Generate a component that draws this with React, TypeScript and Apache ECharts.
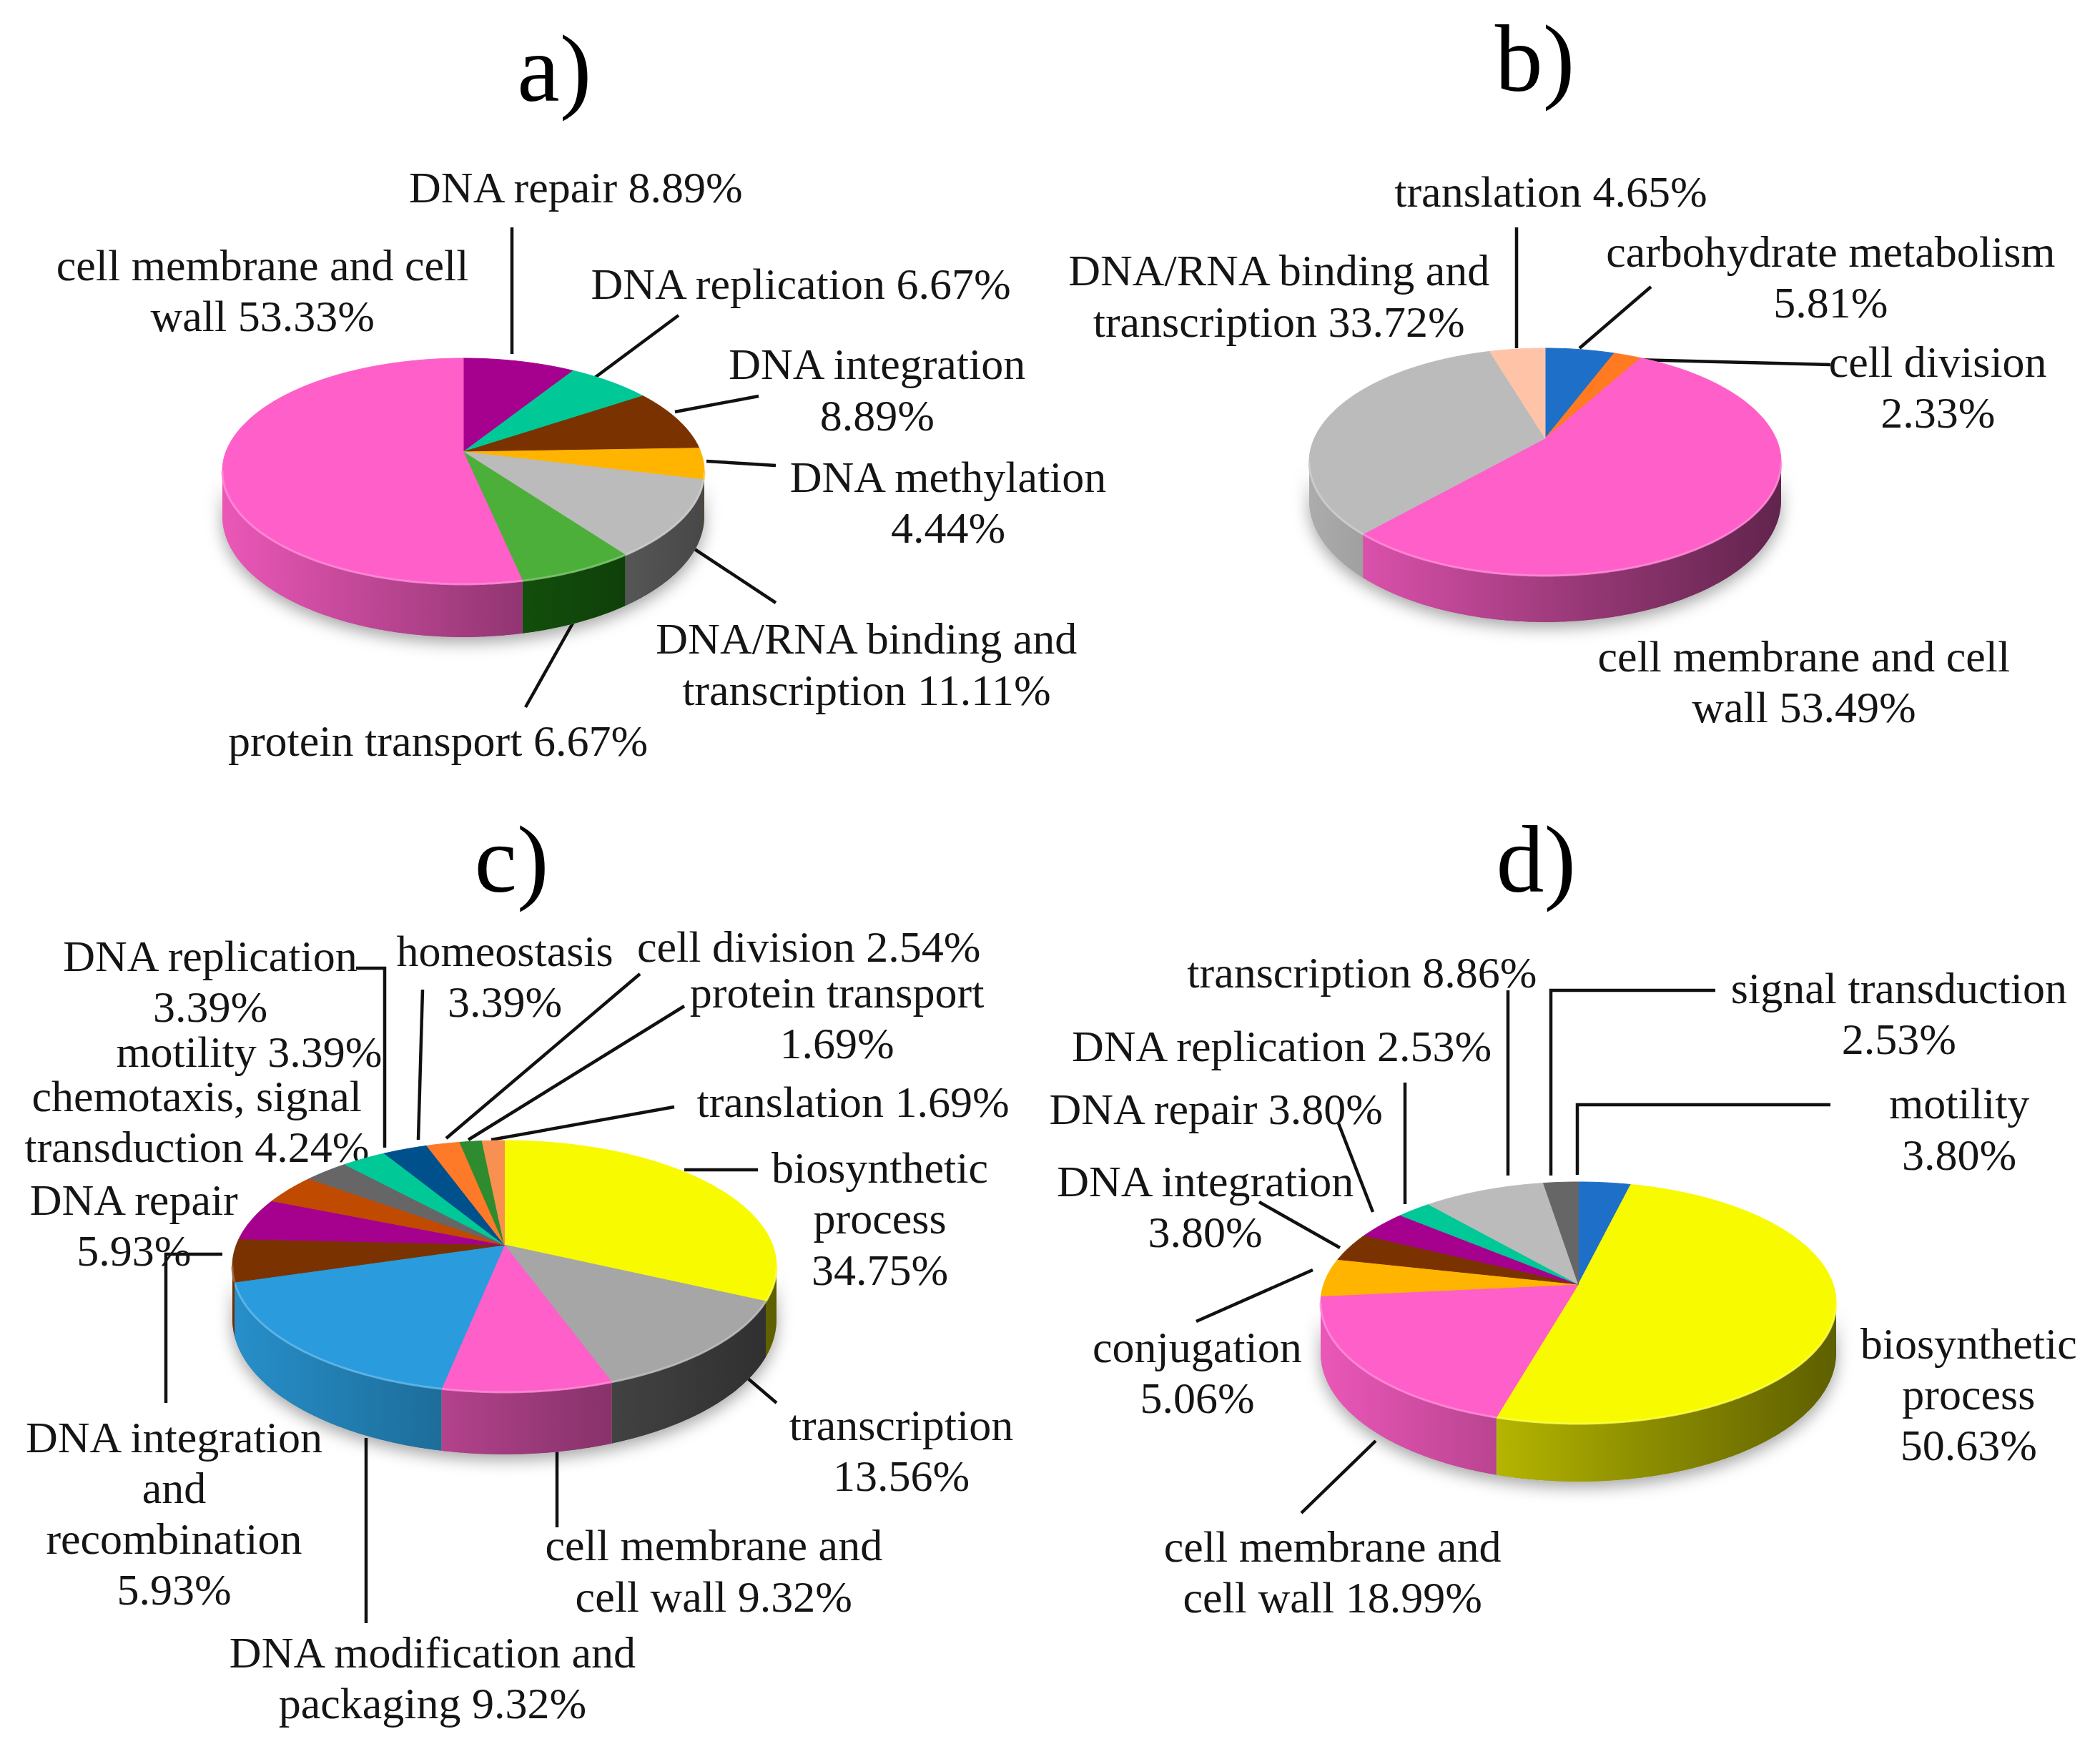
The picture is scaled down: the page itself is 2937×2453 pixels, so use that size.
import React, { useEffect, useRef } from "react";
import * as echarts from "echarts";

// ---------- data ----------
const panelANames = ["DNA repair", "DNA replication", "DNA integration", "DNA methylation", "DNA/RNA binding and transcription", "protein transport", "cell membrane and cell wall"];
const panelAValues = [8.89, 6.67, 8.89, 4.44, 11.11, 6.67, 53.33];
const panelBNames = ["carbohydrate metabolism", "cell division", "cell membrane and cell wall", "DNA/RNA binding and transcription", "translation"];
const panelBValues = [5.81, 2.33, 53.49, 33.72, 4.65];
const panelCNames = ["biosynthetic process", "transcription", "cell membrane and cell wall", "DNA modification and packaging", "DNA integration and recombination", "DNA repair", "chemotaxis, signal transduction", "motility", "DNA replication", "homeostasis", "cell division", "protein transport", "translation"];
// the blue wedge is drawn about twice as large as its printed 9.32 %
const panelCValues = [34.75, 13.56, 9.32, 18.64, 5.93, 5.93, 4.24, 3.39, 3.39, 3.39, 2.54, 1.69, 1.69];
const panelDNames = ["motility", "biosynthetic process", "cell membrane and cell wall", "conjugation", "DNA integration", "DNA repair", "DNA replication", "transcription", "signal transduction"];
const panelDValues = [3.8, 50.63, 18.99, 5.06, 3.8, 3.8, 2.53, 8.86, 2.53];

const panelATitle = "a)";
const panelBTitle = "b)";
const panelCTitle = "c)";
const panelDTitle = "d)";

const panelALabels = [
  ["DNA repair 8.89%"],
  ["cell membrane and cell", "wall 53.33%"],
  ["DNA replication 6.67%"],
  ["DNA integration", "8.89%"],
  ["DNA methylation", "4.44%"],
  ["DNA/RNA binding and", "transcription 11.11%"],
  ["protein transport 6.67%"],
];
const panelBLabels = [
  ["translation 4.65%"],
  ["DNA/RNA binding and", "transcription 33.72%"],
  ["carbohydrate metabolism", "5.81%"],
  ["cell division", "2.33%"],
  ["cell membrane and cell", "wall 53.49%"],
];
const panelCLabels = [
  ["DNA replication", "3.39%"],
  ["homeostasis", "3.39%"],
  ["cell division 2.54%"],
  ["protein transport", "1.69%"],
  ["motility 3.39%"],
  ["chemotaxis, signal", "transduction 4.24%"],
  ["translation 1.69%"],
  ["biosynthetic", "process", "34.75%"],
  ["DNA repair", "5.93%"],
  ["transcription", "13.56%"],
  ["DNA integration", "and", "recombination", "5.93%"],
  ["cell membrane and", "cell wall 9.32%"],
  ["DNA modification and", "packaging 9.32%"],
];
const panelDLabels = [
  ["transcription 8.86%"],
  ["signal transduction", "2.53%"],
  ["DNA replication 2.53%"],
  ["DNA repair 3.80%"],
  ["motility", "3.80%"],
  ["DNA integration", "3.80%"],
  ["conjugation", "5.06%"],
  ["biosynthetic", "process", "50.63%"],
  ["cell membrane and", "cell wall 18.99%"],
];

// ---------- colours ----------
const panelAColors = ["#A6008E", "#00C896", "#7A3200", "#FFB400", "#BBBBBB", "#4CAF3A", "#FF5FC8"];
const panelBColors = ["#1E6FC8", "#FF7A20", "#FF5FC8", "#BBBBBB", "#FFC4A8"];
const panelCColors = ["#F8FA00", "#A6A6A6", "#FF5FC8", "#2A9BDC", "#7A3200", "#A6008E", "#C04A00", "#666666", "#00C896", "#00508C", "#FF7A28", "#2E8B2E", "#F79050"];
const panelDColors = ["#1E6FC8", "#F8FA00", "#FF5FC8", "#FFB400", "#7A3200", "#A6008E", "#00C896", "#BBBBBB", "#666666"];
const panelAWalls = ["#A6008E", "#00C896", "#7A3200", "#FFB400", "#BBBBBB", "#208A14", "#FF5FC8"];
const panelCWalls = ["#F8FA00", "#7C7C7C", "#FF5FC8", "#2A9BDC", "#7A3200", "#A6008E", "#C04A00", "#666666", "#00C896", "#00508C", "#FF7A28", "#2E8B2E", "#F79050"];

// ---------- layout (pixels of the 2937 x 2453 page) ----------
const K = 1.873; // label anchors were read at 1/K scale
type Geo = { cx: number; ay: number; halfW: number; up: number; down: number; depth: number };
const geoA: Geo = { cx: 648, ay: 632, halfW: 337, up: 131, down: 185, depth: 74 };
const geoB: Geo = { cx: 2161, ay: 613, halfW: 330, up: 126, down: 192, depth: 65 };
const geoC: Geo = { cx: 705.5, ay: 1741, halfW: 380.5, up: 146, down: 206, depth: 87 };
const geoD: Geo = { cx: 2207.5, ay: 1796, halfW: 360.5, up: 143, down: 195, depth: 81 };

const titleAnchors = { a: [414, 51], b: [1146, 44], c: [382, 642], d: [1147, 642] };
const anchorsA = [[430, 140], [196, 198], [598, 212], [655, 272], [708, 356], [647, 477], [327, 553]];
const anchorsB = [[1158, 143], [955, 202], [1367, 188], [1447, 270], [1347, 490]];
const anchorsC = [[157, 714], [377, 710], [604, 707], [625, 741], [186, 785.5], [147, 818.5], [637, 823], [657, 872], [100, 896], [673, 1064], [130, 1073], [533, 1154], [323, 1234]];
const anchorsD = [[1017, 726], [1418, 738], [957, 781], [908, 828], [1463, 824], [900, 882], [894, 1006], [1470, 1003], [995, 1155]];

const leaders: number[][][] = [
  // a
  [[716, 318], [716, 495]], [[949, 441], [832, 528]], [[1061, 554], [944, 576]], [[1085, 651], [988, 645]], [[1085, 843], [964, 763]], [[735, 989], [816, 845]],
  // b
  [[2121, 318], [2121, 487]], [[2309, 401], [2209, 487]], [[2285, 503], [2560, 510]],
  // c
  [[498, 1354], [538, 1354], [538, 1605]], [[591, 1384], [585, 1594]], [[895, 1362], [624, 1592]], [[957, 1407], [655, 1594]], [[943, 1548], [687, 1594]], [[1060, 1636], [957, 1636]],
  [[232, 1962], [232, 1754], [311, 1754]], [[1086, 1962], [1038, 1921]], [[779, 2136], [779, 2030]], [[512, 2270], [512, 2011]],
  // d
  [[2109, 1385], [2109, 1644]], [[2399, 1385], [2169, 1385], [2169, 1644]], [[2560, 1545], [2206, 1545], [2206, 1643]], [[1965, 1514], [1965, 1684]], [[1872, 1571], [1920, 1695]], [[1761, 1681], [1874, 1745]], [[1836, 1776], [1673, 1848]], [[1924, 2015], [1820, 2116]],
];

const FONT_FAMILY = '"Liberation Serif", "Times New Roman", serif';
const LABEL_SIZE = 62;
const TITLE_SIZE = 134;
const LINE_STEP = 38 * K;
const INK = "#151515";

// ---------- helpers ----------
function shade(hex: string, f: number) {
  const n = parseInt(hex.slice(1), 16);
  const c = [(n >> 16) & 255, (n >> 8) & 255, n & 255].map((v) => Math.round(v * f));
  return `rgb(${c[0]},${c[1]},${c[2]})`;
}
function lighten(hex: string, f: number) {
  const n = parseInt(hex.slice(1), 16);
  const c = [(n >> 16) & 255, (n >> 8) & 255, n & 255].map((v) => Math.round(v + (255 - v) * f));
  return `rgb(${c[0]},${c[1]},${c[2]})`;
}
const WALL_STOPS = [[0, 0.92], [0.35, 0.72], [0.6, 0.58], [1, 0.38]];

function project(g: Geo, theta: number) {
  const c = (g.up - g.down) / (g.up + g.down);
  const k = g.up * (1 - c);
  const d = g.halfW * Math.sqrt(1 - c * c);
  const x = Math.sin(theta);
  const y = -Math.cos(theta);
  const w = 1 + c * y;
  return { x: g.cx + (d * x) / w, y: g.ay + (k * y) / w, drop: (g.depth * (1 + c)) / w };
}
function arcPoints(g: Geo, a0: number, a1: number) {
  const n = Math.max(2, Math.ceil((a1 - a0) / 0.01));
  const pts = [];
  for (let i = 0; i <= n; i++) pts.push(project(g, a0 + ((a1 - a0) * i) / n));
  return pts;
}

function pieSeries(name: string, names: string[], values: number[], colors: string[], walls: string[], g: Geo) {
  const total = values.reduce((s, v) => s + v, 0);
  const c = (g.up - g.down) / (g.up + g.down);
  const tMin = Math.acos(c);
  const tMax = 2 * Math.PI - tMin;
  return {
    type: "custom",
    name,
    coordinateSystem: "none",
    silent: true,
    data: values.map((v, i) => ({ name: names[i], value: [v] })),
    renderItem(params: any, api: any) {
      const i = params.dataIndex;
      let before = 0;
      for (let j = 0; j < i; j++) before += values[j];
      const a0 = (before / total) * 2 * Math.PI;
      const a1 = a0 + (api.value(0) / total) * 2 * Math.PI;
      const children: any[] = [];
      if (i === 0) {
        const all = arcPoints(g, tMin, tMax);
        const pts = [...all.map((p) => [p.x, p.y]), ...all.reverse().map((p) => [p.x, p.y + p.drop])];
        children.push({
          type: "polygon",
          shape: { points: pts },
          style: { fill: "#999", shadowBlur: 22, shadowColor: "rgba(0,0,0,0.35)", shadowOffsetY: 8 },
        });
      }
      const w0 = Math.max(a0, tMin);
      const w1 = Math.min(a1, tMax);
      if (w1 > w0) {
        const rim = arcPoints(g, w0, w1);
        const pts = [...rim.map((p) => [p.x, p.y]), ...rim.slice().reverse().map((p) => [p.x, p.y + p.drop])];
        const grad = new echarts.graphic.LinearGradient(
          g.cx - g.halfW, 0, g.cx + g.halfW, 0,
          WALL_STOPS.map(([o, f]) => ({ offset: o, color: shade(walls[i], f) })),
          true
        );
        children.push({ type: "polygon", shape: { points: pts }, style: { fill: grad, stroke: null } });
      }
      const top = arcPoints(g, a0, a1).map((p) => [p.x, p.y]);
      children.push({
        type: "polygon",
        shape: { points: [[g.cx, g.ay], ...top] },
        style: { fill: colors[i], stroke: colors[i], lineWidth: 1 },
      });
      if (w1 > w0) {
        const rim = arcPoints(g, w0, w1).map((p) => [p.x, p.y]);
        children.push({
          type: "polyline",
          shape: { points: rim },
          style: { fill: null, stroke: lighten(colors[i], 0.3), lineWidth: 3, opacity: 0.8 },
        });
      }
      return { type: "group", children };
    },
  };
}

function labelElements(labels: string[][], anchors: number[][]) {
  const out: any[] = [];
  labels.forEach((lines, i) => {
    const [ax, ay] = anchors[i];
    lines.forEach((line, j) => {
      out.push({
        type: "text",
        style: {
          text: line,
          x: ax * K,
          y: ay * K + j * LINE_STEP,
          fill: INK,
          font: `${LABEL_SIZE}px ${FONT_FAMILY}`,
          textAlign: "center",
          textVerticalAlign: "middle",
        },
      });
    });
  });
  return out;
}
function titleElement(text: string, at: number[]) {
  return {
    type: "text",
    style: {
      text,
      x: at[0] * K,
      y: at[1] * K,
      fill: "#000",
      font: `${TITLE_SIZE}px ${FONT_FAMILY}`,
      textAlign: "center",
      textVerticalAlign: "middle",
    },
  };
}

export default function App() {
  const ref = useRef<HTMLDivElement>(null);
  useEffect(() => {
    document.body.style.margin = "0";
    document.body.style.background = "#fff";
    const chart = echarts.init(ref.current!, undefined, { renderer: "svg" });
    chart.setOption({
      animation: false,
      backgroundColor: "#ffffff",
      series: [
        pieSeries("a", panelANames, panelAValues, panelAColors, panelAWalls, geoA),
        pieSeries("b", panelBNames, panelBValues, panelBColors, panelBColors, geoB),
        pieSeries("c", panelCNames, panelCValues, panelCColors, panelCWalls, geoC),
        pieSeries("d", panelDNames, panelDValues, panelDColors, panelDColors, geoD),
      ],
      graphic: {
        elements: [
          ...leaders.map((pts) => ({
            type: "polyline",
            shape: { points: pts },
            style: { fill: null, stroke: "#111", lineWidth: 4.5 },
          })),
          titleElement(panelATitle, titleAnchors.a),
          titleElement(panelBTitle, titleAnchors.b),
          titleElement(panelCTitle, titleAnchors.c),
          titleElement(panelDTitle, titleAnchors.d),
          ...labelElements(panelALabels, anchorsA),
          ...labelElements(panelBLabels, anchorsB),
          ...labelElements(panelCLabels, anchorsC),
          ...labelElements(panelDLabels, anchorsD),
        ],
      },
    });
    return () => chart.dispose();
  }, []);
  return <div ref={ref} style={{ width: 2937, height: 2453 }} />;
}
